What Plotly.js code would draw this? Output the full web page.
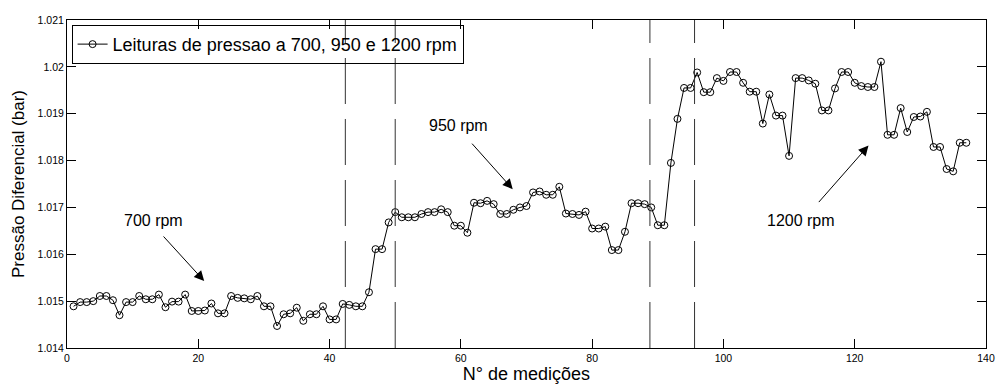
<!DOCTYPE html>
<html>
<head>
<meta charset="utf-8">
<script src="https://cdn.plot.ly/plotly-3.0.1.min.js"></script>
<style>
  html, body { margin: 0; padding: 0; background: #fff; }
  #chart { width: 998px; height: 385px; }
</style>
</head>
<body>
<div id="chart"></div>
<script>
// Differential pressure readings (bar), measurement number 1..137
const pressure = [
  1.01489, 1.01498, 1.01498, 1.01500, 1.01511, 1.01511, 1.01502, 1.01470, 1.01498, 1.01498,
  1.01511, 1.01504, 1.01504, 1.01514, 1.01487, 1.01499, 1.01499, 1.01514, 1.01479, 1.01479,
  1.01480, 1.01495, 1.01474, 1.01474, 1.01511, 1.01507, 1.01506, 1.01504, 1.01511, 1.01489,
  1.01489, 1.01447, 1.01472, 1.01474, 1.01486, 1.01458, 1.01472, 1.01472, 1.01489, 1.01461,
  1.01461, 1.01494, 1.01492, 1.01489, 1.01489, 1.01519, 1.01611, 1.01611, 1.01668, 1.01690,
  1.01679, 1.01679, 1.01679, 1.01686, 1.01690, 1.01690, 1.01696, 1.01690, 1.01661, 1.01661,
  1.01646, 1.01710, 1.01709, 1.01714, 1.01707, 1.01686, 1.01686, 1.01695, 1.01700, 1.01703,
  1.01732, 1.01734, 1.01727, 1.01727, 1.01744, 1.01687, 1.01686, 1.01684, 1.01691, 1.01655,
  1.01655, 1.01659, 1.01609, 1.01609, 1.01648, 1.01709, 1.01709, 1.01707, 1.01700, 1.01662,
  1.01662, 1.01795, 1.01889, 1.01955, 1.01955, 1.01988, 1.01946, 1.01946, 1.01976, 1.01970,
  1.01989, 1.01989, 1.01966, 1.01947, 1.01947, 1.01879, 1.01941, 1.01896, 1.01896, 1.01810,
  1.01976, 1.01976, 1.01971, 1.01964, 1.01907, 1.01907, 1.01954, 1.01989, 1.01989, 1.01966,
  1.01959, 1.01957, 1.01957, 1.02011, 1.01855, 1.01855, 1.01912, 1.01861, 1.01893, 1.01894,
  1.01904, 1.01829, 1.01829, 1.01782, 1.01777, 1.01838, 1.01838
];
const measurementNo = pressure.map((_, i) => i + 1);

// Regime boundaries (measurement number)
const dividers = [42.4, 50, 88.8, 95.6];

// Annotation labels, text anchor and arrow head (data coords)
const labels = ["700 rpm", "950 rpm", "1200 rpm"];
const labelX = [13.2, 59.7, 111.8];
const labelY = [1.01672, 1.01875, 1.01672];
const arrowX = [20.9, 67.9, 122.1];
const arrowY = [1.01543, 1.01739, 1.01832];
const arrowTail = [[-42, -46], [-42, -47], [-51, 58]];

const legendName = "Leituras de pressao a 700, 950 e 1200 rpm";

const trace = {
  x: measurementNo,
  y: pressure,
  type: "scatter",
  mode: "lines+markers",
  name: legendName,
  line: { color: "#000", width: 1 },
  marker: { symbol: "circle-open", size: 7, color: "#000", line: { color: "#000", width: 1 } }
};

const shapes = dividers.map(d => ({
  type: "line", xref: "x", yref: "paper", x0: d, x1: d, y0: 0, y1: 1,
  line: { color: "#333", width: 1, dash: "46px,15px" }, layer: "above"
}));

const annotations = [];
labels.forEach((t, i) => {
  annotations.push({
    x: labelX[i], y: labelY[i], xref: "x", yref: "y", text: t, showarrow: false,
    font: { family: "Arial, Liberation Sans, sans-serif", size: 16, color: "#000" }
  });
  annotations.push({
    x: arrowX[i], y: arrowY[i], xref: "x", yref: "y", text: "", showarrow: true,
    ax: arrowTail[i][0], ay: arrowTail[i][1], axref: "pixel", ayref: "pixel",
    arrowhead: 2, arrowsize: 2, arrowwidth: 1, arrowcolor: "#000", standoff: 0
  });
});

const axisCommon = {
  showline: true, linecolor: "#000", linewidth: 1, mirror: "ticks",
  ticks: "inside", ticklen: 9, tickcolor: "#000", tickwidth: 1,
  showgrid: false, zeroline: false,
  tickfont: { family: "Arial, Liberation Sans, sans-serif", size: 10.5, color: "#000" }
};

const layout = {
  width: 998, height: 385,
  margin: { l: 67, r: 12, t: 20, b: 37 },
  paper_bgcolor: "#fff", plot_bgcolor: "#fff",
  font: { family: "Arial, Liberation Sans, sans-serif", color: "#000" },
  xaxis: Object.assign({}, axisCommon, {
    range: [0, 140], tick0: 0, dtick: 20,
    title: { text: "N° de medições", font: { size: 18, color: "#000" }, standoff: 4 }
  }),
  yaxis: Object.assign({}, axisCommon, {
    range: [1.014, 1.021], tick0: 1.014, dtick: 0.001,
    title: { text: "Pressão Diferencial (bar)", font: { size: 17, color: "#000" }, standoff: 8 }
  }),
  showlegend: true,
  legend: {
    x: 0.005, y: 0.985, xanchor: "left", yanchor: "top",
    bgcolor: "rgba(0,0,0,0)", bordercolor: "#000", borderwidth: 1,
    font: { size: 18, color: "#000" }
  },
  shapes: shapes,
  annotations: annotations
};

Plotly.newPlot("chart", [trace], layout, { staticPlot: true, displayModeBar: false });
</script>
</body>
</html>
